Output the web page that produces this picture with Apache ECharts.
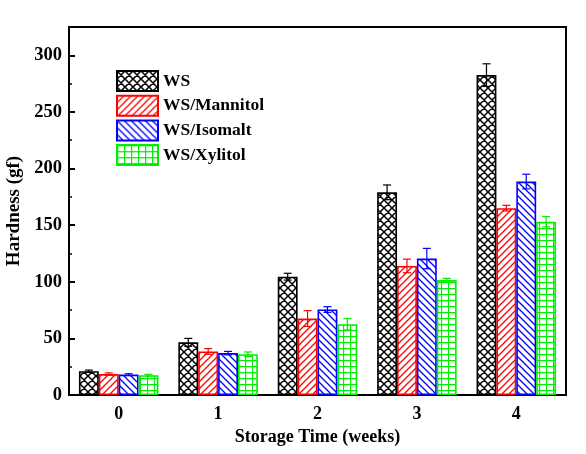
<!DOCTYPE html>
<html>
<head>
<meta charset="utf-8">
<script src="https://cdn.jsdelivr.net/npm/echarts@6/dist/echarts.min.js"></script>
<style>
  html, body { margin: 0; padding: 0; background: #fff; }
  #chart { width: 586px; height: 454px; }
</style>
</head>
<body>
<div id="chart"></div>
<script>
// data
const weeks = ['0', '1', '2', '3', '4'];
const seriesNames = ['WS', 'WS/Mannitol', 'WS/Isomalt', 'WS/Xylitol'];
const ws = [21, 46.5, 104.5, 179, 282.5];
const wsErr = [1, 3.5, 3, 6.5, 10];
const mannitol = [18.5, 38.5, 67.5, 114, 165];
const mannitolErr = [1, 2.5, 7, 6, 2.5];
const isomalt = [18, 37, 75.5, 120.5, 188.5];
const isomaltErr = [0.8, 1.5, 2.5, 9, 6.5];
const xylitol = [17.5, 36, 62.5, 101.5, 153];
const xylitolErr = [0.8, 2, 5, 1.5, 4.5];

const colors = ['#000000', '#ff0000', '#0000ff', '#00ee00'];
const FONT = '"Liberation Serif", "Times New Roman", serif';

// hatch fills drawn on a small canvas tile
function makePattern(kind, color) {
  const c = document.createElement('canvas');
  const w = kind === 'grid' ? 6.5 : (kind === 'cross' ? 8 : 7);
  const h = kind === 'grid' ? 6 : w;
  c.width = Math.round(w); c.height = Math.round(h);
  const W = c.width, H = c.height;
  const ctx = c.getContext('2d');
  ctx.fillStyle = '#fff';
  ctx.fillRect(0, 0, W, H);
  ctx.strokeStyle = color;
  ctx.lineWidth = kind === 'cross' ? 1.5 : 1.3;
  ctx.beginPath();
  if (kind === 'fwd' || kind === 'cross') {
    ctx.moveTo(-1, H + 1); ctx.lineTo(W + 1, -1);
    ctx.moveTo(-1, 1); ctx.lineTo(1, -1);
    ctx.moveTo(W - 1, H + 1); ctx.lineTo(W + 1, H - 1);
  }
  if (kind === 'back' || kind === 'cross') {
    ctx.moveTo(-1, -1); ctx.lineTo(W + 1, H + 1);
    ctx.moveTo(W - 1, -1); ctx.lineTo(W + 1, 1);
    ctx.moveTo(-1, H - 1); ctx.lineTo(1, H + 1);
  }
  if (kind === 'grid') {
    ctx.moveTo(0.5, 0); ctx.lineTo(0.5, H);
    ctx.moveTo(0, 0.5); ctx.lineTo(W, 0.5);
  }
  ctx.stroke();
  return { image: c, repeat: 'repeat' };
}

const kinds = ['cross', 'fwd', 'back', 'grid'];
const values = [ws, mannitol, isomalt, xylitol];
const errors = [wsErr, mannitolErr, isomaltErr, xylitolErr];

const chart = echarts.init(document.getElementById('chart'));

const barSeries = seriesNames.map(function (name, i) {
  return {
    name: name,
    type: 'bar',
    barGap: '0%',
    barCategoryGap: '20%',
    data: values[i],
    itemStyle: {
      color: makePattern(kinds[i], colors[i]),
      borderColor: colors[i],
      borderWidth: 1.6
    },
    z: 2
  };
});

// error bars, placed at the middle of each bar
const errSeries = seriesNames.map(function (name, i) {
  return {
    type: 'custom',
    name: name + ' err',
    z: 5,
    data: weeks.map(function (w, k) { return [k, values[i][k], errors[i][k]]; }),
    renderItem: function (params, api) {
      const k = api.value(0);
      const v = api.value(1);
      const e = api.value(2);
      const catW = api.size([1, 0])[0];
      const barW = catW * 0.8 / 4;
      const dx = (i - 1.5) * barW;
      const hi = api.coord([k, v + e]);
      const lo = api.coord([k, v - e]);
      const x = hi[0] + dx;
      const cap = 4;
      const style = { stroke: colors[i], lineWidth: 1.2 };
      return {
        type: 'group',
        children: [
          { type: 'line', shape: { x1: x, y1: hi[1], x2: x, y2: lo[1] }, style: style },
          { type: 'line', shape: { x1: x - cap, y1: hi[1], x2: x + cap, y2: hi[1] }, style: style },
          { type: 'line', shape: { x1: x - cap, y1: lo[1], x2: x + cap, y2: lo[1] }, style: style }
        ]
      };
    }
  };
});

const option = {
  animation: false,
  backgroundColor: '#fff',
  textStyle: { fontFamily: FONT },
  grid: {
    left: 69, right: 20, top: 27, bottom: 59,
    outerBoundsMode: 'none',
    show: true, borderColor: '#000', borderWidth: 2
  },
  legend: {
    data: seriesNames,
    orient: 'vertical',
    left: 111, top: 65,
    itemWidth: 41, itemHeight: 20,
    itemGap: 2.7,
    icon: 'rect',
    textStyle: { fontFamily: FONT, fontWeight: 'bold', fontSize: 17.5, lineHeight: 20, color: '#000' }
  },
  xAxis: {
    type: 'category',
    data: weeks,
    name: 'Storage Time (weeks)',
    nameLocation: 'middle',
    nameGap: 27,
    nameTextStyle: { fontFamily: FONT, fontWeight: 'bold', fontSize: 18, color: '#000' },
    axisLine: { lineStyle: { color: '#000', width: 2 } },
    axisTick: { show: false },
    axisLabel: { fontFamily: FONT, fontWeight: 'bold', fontSize: 18, color: '#000', margin: 10 }
  },
  yAxis: {
    type: 'value',
    min: 0, max: 325, interval: 50,
    name: 'Hardness (gf)',
    nameLocation: 'middle',
    nameGap: 41,
    nameTextStyle: { fontFamily: FONT, fontWeight: 'bold', fontSize: 19, color: '#000' },
    axisLine: { show: true, lineStyle: { color: '#000', width: 2 } },
    axisTick: { show: true, inside: true, length: 6, lineStyle: { color: '#000', width: 2 } },
    minorTick: { show: true, splitNumber: 2, length: 3, lineStyle: { color: '#000', width: 1.5 } },
    splitLine: { show: false },
    axisLabel: { fontFamily: FONT, fontWeight: 'bold', fontSize: 18.5, color: '#000', margin: 7,
      showMaxLabel: false }
  },
  series: barSeries.concat(errSeries)
};

chart.setOption(option);
</script>
</body>
</html>
